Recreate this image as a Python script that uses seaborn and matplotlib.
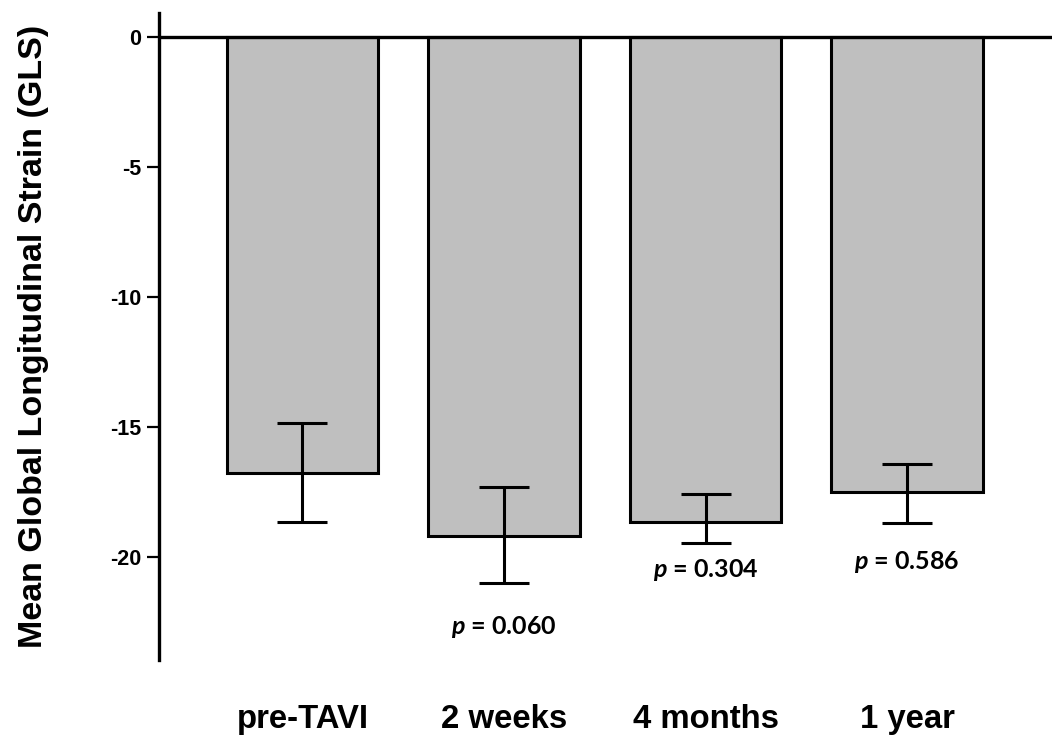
import matplotlib
matplotlib.use("Agg")
import matplotlib.pyplot as plt
import seaborn as sns

sns.set_style("ticks")
plt.rcParams['font.family'] = ['Liberation Sans', 'DejaVu Sans']
plt.rcParams['mathtext.fontset'] = 'custom'
plt.rcParams['mathtext.it'] = 'Lato:italic:bold'
plt.rcParams['mathtext.rm'] = 'Lato:bold'
plt.rcParams.update({'text.color': 'black', 'axes.labelcolor': 'black',
                     'xtick.color': 'black', 'ytick.color': 'black',
                     'axes.edgecolor': 'black'})

# values
categories = ["pre-TAVI", "2 weeks", "4 months", "1 year"]
mean_gls = [-16.75, -19.2, -18.65, -17.5]
err_up = [1.9, 1.9, 1.1, 1.1]
err_down = [1.9, 1.8, 0.8, 1.2]
p_values = ["", "0.060", "0.304", "0.586"]
p_text_y = [0, -22.7, -20.5, -20.2]

fig = plt.figure(figsize=(10.57, 7.36), dpi=100)
ax = fig.add_axes([0.1504, 0.1033, 0.845, 0.879])

sns.barplot(x=categories, y=mean_gls, color="#bfbfbf", saturation=1,
            edgecolor="black", linewidth=2.2, width=0.75, errorbar=None, ax=ax)

ax.errorbar(range(len(categories)), mean_gls, yerr=[err_down, err_up], fmt='none',
            ecolor='black', elinewidth=2.2, capsize=18, capthick=2.2, zorder=4)

ax.axhline(0, color='black', lw=2.4, zorder=5)

for i, p in enumerate(p_values):
    if p:
        ax.text(i, p_text_y[i], r"$\mathit{p}$ = " + p, ha='center', va='center',
                fontsize=18, fontweight='bold', family='Lato', color='black')

ax.set_xlim(-0.712, 3.72)
ax.set_ylim(-23.95, 0.935)
ax.set_yticks([0, -5, -10, -15, -20])
ax.set_yticklabels(["0", "-5", "-10", "-15", "-20"], fontsize=15.5, fontweight='bold')
ax.set_xticks(range(len(categories)))
ax.set_xticklabels(categories, fontsize=23.7, fontweight='bold')
ax.tick_params(axis='x', length=0, pad=32)
ax.tick_params(axis='y', length=9, width=1.6, pad=4)

for side in ['top', 'right', 'bottom']:
    ax.spines[side].set_visible(False)
ax.spines['left'].set_linewidth(2.4)

ax.set_xlabel("")
ax.set_ylabel("Mean Global Longitudinal Strain (GLS)", fontsize=24.5, fontweight='bold', labelpad=44)

fig.savefig("out.png", dpi=100)
